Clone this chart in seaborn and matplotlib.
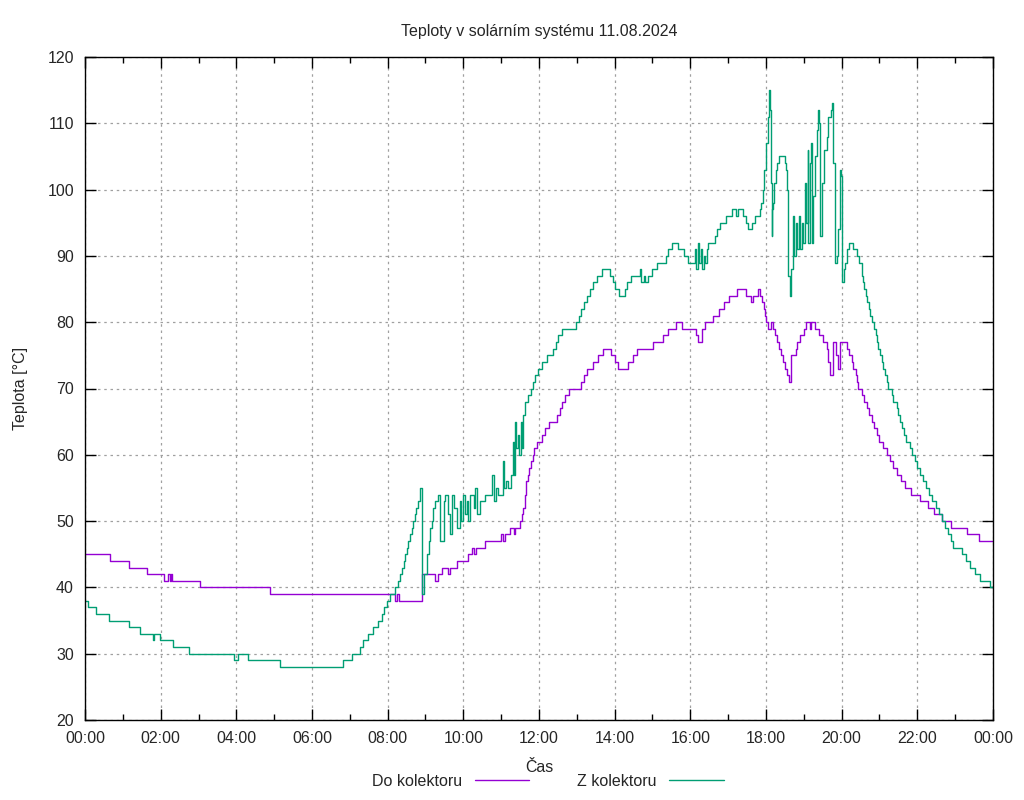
import pandas as pd
import numpy as np
import seaborn as sns
import matplotlib.pyplot as plt
from matplotlib.lines import Line2D
from matplotlib.ticker import MultipleLocator, FuncFormatter

# cas v hodinach, teplota ve stupnich
do_cas = [0, 0.65, 1.16, 1.63, 2.09, 2.2, 2.25, 2.27, 2.3, 3.04, 4.89, 8.2, 8.24, 8.29,
          8.9, 9.25, 9.34, 9.43, 9.6, 9.65, 9.84, 10.13, 10.22, 10.28, 10.33, 10.57, 11.0,
          11.05, 11.1, 11.23, 11.33, 11.36, 11.49, 11.55, 11.58, 11.62, 11.66, 11.7, 11.74,
          11.8, 11.84, 11.88, 11.95, 12.07, 12.16, 12.27, 12.47, 12.55, 12.62, 12.7, 12.78,
          13.11, 13.2, 13.28, 13.42, 13.55, 13.68, 13.9, 14.0, 14.1, 14.36, 14.48, 14.6,
          15.02, 15.29, 15.4, 15.61, 15.77, 16.15, 16.2, 16.31, 16.4, 16.61, 16.75, 16.9,
          17.03, 17.23, 17.47, 17.6, 17.65, 17.8, 17.85, 17.9, 17.95, 17.98, 18.0, 18.05,
          18.12, 18.18, 18.25, 18.3, 18.35, 18.4, 18.45, 18.5, 18.55, 18.6, 18.65, 18.78,
          18.82, 18.9, 19.0, 19.05, 19.15, 19.2, 19.3, 19.4, 19.5, 19.6, 19.65, 19.7, 19.78,
          19.85, 19.9, 19.96, 20.02, 20.15, 20.2, 20.27, 20.31, 20.38, 20.4, 20.44, 20.53,
          20.6, 20.66, 20.73, 20.79, 20.86, 20.93, 20.99, 21.1, 21.21, 21.28, 21.37, 21.45,
          21.56, 21.67, 21.82, 22.07, 22.29, 22.45, 22.64, 22.88, 23.32, 23.63, 24.0]
do_teplota = [45, 44, 43, 42, 41, 42, 41, 42, 41, 40, 39, 38, 39, 38,
              42, 41, 42, 43, 42, 43, 44, 45, 46, 45, 46, 47, 48,
              47, 48, 49, 48, 49, 50, 51, 52, 54, 56, 57, 58,
              59, 60, 61, 62, 63, 64, 65, 66, 67, 68, 69, 70,
              71, 72, 73, 74, 75, 76, 75, 74, 73, 74, 75, 76,
              77, 78, 79, 80, 79, 78, 77, 79, 80, 81, 82, 83,
              84, 85, 84, 83, 84, 85, 84, 83, 82, 81, 80, 79,
              80, 79, 78, 77, 76, 75, 74, 73, 72, 71, 75, 76,
              77, 78, 79, 80, 79, 80, 79, 78, 77, 76, 74, 72, 77,
              75, 73, 77, 77, 76, 75, 74, 73, 72, 71, 70, 69,
              68, 67, 66, 65, 64, 63, 62, 61, 60, 59, 58, 57,
              56, 55, 54, 53, 52, 51, 50, 49, 48, 47, 47]

z_cas = [0, 0.09, 0.29, 0.64, 1.17, 1.45, 1.79, 1.82, 1.98, 2.33, 2.76, 3.94, 4.05,
         4.32, 5.15, 6.83, 7.05, 7.27, 7.36, 7.49, 7.6, 7.75, 7.84, 7.9, 7.97, 8.06,
         8.2, 8.27, 8.33, 8.37, 8.42, 8.47, 8.51, 8.55, 8.6, 8.64, 8.68, 8.72, 8.76,
         8.8, 8.86, 8.9, 8.97, 9.04, 9.08, 9.12, 9.16, 9.21, 9.26, 9.34, 9.39, 9.46,
         9.48, 9.52, 9.6, 9.65, 9.7, 9.75, 9.84, 9.91, 9.95, 10.0, 10.05, 10.1, 10.13,
         10.18, 10.27, 10.31, 10.35, 10.44, 10.57, 10.75, 10.8, 10.86, 10.92, 11.05,
         11.07, 11.14, 11.18, 11.27, 11.32, 11.34, 11.37, 11.4, 11.44, 11.48, 11.52,
         11.55, 11.59, 11.63, 11.7, 11.78, 11.85, 11.9, 11.98, 12.07, 12.2, 12.38,
         12.45, 12.51, 12.6, 12.98, 13.05, 13.12, 13.2, 13.26, 13.35, 13.44, 13.52,
         13.66, 13.88, 13.95, 14.01, 14.12, 14.27, 14.32, 14.42, 14.67, 14.7, 14.78,
         14.8, 14.89, 14.98, 15.11, 15.37, 15.42, 15.52, 15.68, 15.82, 15.95, 16.12,
         16.16, 16.2, 16.24, 16.28, 16.32, 16.36, 16.4, 16.44, 16.48, 16.65, 16.71,
         16.78, 16.93, 17.09, 17.2, 17.25, 17.4, 17.46, 17.53, 17.62, 17.71, 17.85,
         17.87, 17.93, 17.96, 18.0, 18.04, 18.09, 18.11, 18.13, 18.16, 18.17, 18.19,
         18.22, 18.27, 18.3, 18.35, 18.5, 18.53, 18.56, 18.59, 18.63, 18.66, 18.71,
         18.74, 18.79, 18.83, 18.86, 18.9, 18.95, 18.99, 19.03, 19.06, 19.1, 19.12,
         19.16, 19.19, 19.22, 19.25, 19.3, 19.35, 19.38, 19.41, 19.44, 19.49, 19.54,
         19.6, 19.65, 19.71, 19.75, 19.78, 19.82, 19.87, 19.9, 19.95, 19.99, 20.02,
         20.06, 20.1, 20.13, 20.2, 20.31, 20.4, 20.45, 20.53, 20.55, 20.57, 20.6,
         20.63, 20.67, 20.72, 20.75, 20.8, 20.85, 20.9, 20.93, 20.97, 21.01, 21.06,
         21.1, 21.15, 21.19, 21.23, 21.33, 21.37, 21.45, 21.5, 21.55, 21.6, 21.65,
         21.7, 21.8, 21.87, 21.93, 22.0, 22.08, 22.16, 22.24, 22.3, 22.4, 22.5, 22.58,
         22.65, 22.73, 22.8, 22.88, 22.95, 23.18, 23.28, 23.38, 23.53, 23.65, 23.92, 24.0]
z_teplota = [38, 37, 36, 35, 34, 33, 32, 33, 32, 31, 30, 29, 30,
             29, 28, 29, 30, 31, 32, 33, 34, 35, 36, 37, 38, 39,
             40, 41, 42, 43, 44, 45, 46, 47, 48, 49, 50, 51, 52,
             53, 55, 39, 42, 45, 47, 49, 50, 52, 53, 54, 47, 47,
             53, 54, 51, 48, 54, 52, 49, 53, 50, 54, 51, 53, 50,
             54, 52, 55, 51, 53, 54, 57, 53, 55, 54, 59,
             55, 56, 55, 57, 62, 57, 65, 61, 63, 60, 65,
             61, 66, 68, 69, 70, 71, 72, 73, 74, 75, 76,
             77, 78, 79, 80, 81, 82, 83, 84, 85, 86, 87,
             88, 87, 86, 85, 84, 85, 86, 87, 88, 86, 87,
             86, 87, 88, 89, 90, 91, 92, 91, 90, 89, 91,
             88, 92, 89, 91, 88, 90, 89, 91, 92, 93, 94,
             95, 96, 97, 96, 97, 96, 95, 94, 95, 96, 97,
             98, 100, 103, 107, 111, 115, 112, 101, 93, 97, 98,
             101, 103, 104, 105, 104, 103, 100, 87, 84, 88, 96,
             90, 95, 91, 96, 91, 95, 92, 101, 95, 106, 92,
             104, 107, 92, 99, 105, 109, 112, 110, 93, 101, 106,
             108, 111, 112, 113, 104, 89, 90, 94, 103, 102, 86,
             88, 89, 91, 92, 91, 90, 89, 88, 87, 86, 85,
             84, 83, 82, 81, 80, 79, 78, 77, 76, 75, 74,
             73, 72, 71, 70, 69, 68, 67, 66, 65, 64, 63,
             62, 61, 60, 59, 58, 57, 56, 55, 54, 53, 52, 51,
             50, 49, 48, 47, 46, 45, 44, 43, 42, 41, 40, 40]

serie_nazvy = ["Do kolektoru", "Z kolektoru"]
barvy = ["#9400d3", "#009e73"]

df = pd.concat([
    pd.DataFrame({"cas": do_cas, "teplota": do_teplota, "serie": serie_nazvy[0]}),
    pd.DataFrame({"cas": z_cas, "teplota": z_teplota, "serie": serie_nazvy[1]}),
], ignore_index=True)

sns.set_style("ticks")
plt.rcParams['font.family'] = ['Liberation Sans', 'DejaVu Sans']
fs = 11.5

fig = plt.figure(figsize=(10.24, 8), dpi=100)
ax = fig.add_axes([85 / 1024, 80 / 800, 908 / 1024, 663 / 800])

sns.lineplot(data=df, x="cas", y="teplota", hue="serie", palette=barvy,
             drawstyle="steps-post", estimator=None, sort=False,
             linewidth=1, ax=ax, legend=False)

ax.set_xlim(0, 24)
ax.set_ylim(20, 120)
ax.xaxis.set_major_locator(MultipleLocator(2))
ax.xaxis.set_minor_locator(MultipleLocator(1))
ax.yaxis.set_major_locator(MultipleLocator(10))
ax.xaxis.set_major_formatter(FuncFormatter(lambda v, p: "%02d:00" % (int(round(v)) % 24)))
ax.tick_params(which="both", direction="in", top=True, right=True, labelsize=fs,
               color="black", width=1)
ax.tick_params(which="major", length=8, pad=8)
ax.tick_params(which="minor", length=4)
ax.grid(True, which="major", color="#a0a0a0", linestyle=(0, (2, 3)), linewidth=0.9)
for s in ax.spines.values():
    s.set_color("black")
    s.set_linewidth(1)

ax.set_title("Teploty v solárním systému 11.08.2024", fontsize=fs, pad=15)
ax.set_xlabel("Čas", fontsize=fs, labelpad=10)
ax.set_ylabel("Teplota [°C]", fontsize=fs, labelpad=14)

handles = [Line2D([], [], color=c, linewidth=1) for c in barvy]
fig.legend(handles, serie_nazvy, loc="center", bbox_to_anchor=(0.535, 1 - 781 / 800),
           ncol=2, frameon=False, markerfirst=False, handlelength=3.4,
           columnspacing=3.0, fontsize=fs)

fig.savefig("out.png", dpi=100)
